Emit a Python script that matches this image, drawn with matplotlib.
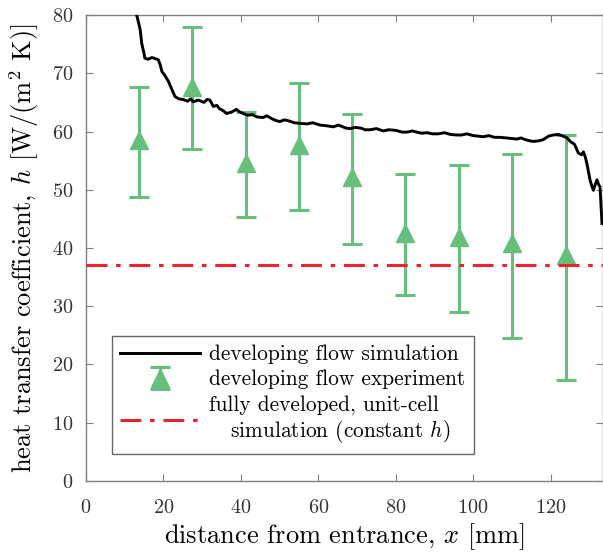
import numpy as np
import matplotlib.pyplot as plt

plt.rcParams['font.family'] = 'cmr10'
plt.rcParams['mathtext.fontset'] = 'cm'
plt.rcParams['axes.formatter.use_mathtext'] = True
plt.rcParams['axes.unicode_minus'] = False
plt.rcParams['lines.scale_dashes'] = False

# simulacion (flujo en desarrollo)
x_sim = [13.1, 14.0, 14.4, 15.0, 15.2, 16.0, 17.0, 18.0, 18.7, 19.2, 19.6, 20.4, 21.3, 22.2,
         23.0, 24.0, 25.1, 26.3, 27.0, 27.7, 29.0, 30.5, 31.3, 32.0, 32.9, 33.8, 34.5, 35.4,
         36.3, 37.5, 38.9, 39.6, 40.6, 41.8, 43.0, 44.2, 45.8, 46.7, 48.0, 49.0, 50.1, 51.2,
         52.5, 53.8, 55.3, 57.0, 58.6, 60.5, 62.0, 63.9, 65.2, 66.0, 67.1, 68.2, 69.5, 71.0,
         72.1, 73.4, 75.0, 76.8, 78.2, 80.0, 81.6, 83.0, 84.3, 85.4, 86.8, 88.0, 89.5, 91.0,
         92.6, 94.1, 95.7, 97.0, 98.4, 100.0, 101.3, 102.7, 104.0, 105.5, 107.0, 108.5,
         110.0, 111.3, 112.4, 113.5, 114.6, 115.6, 117.0, 118.1, 119.5, 120.7, 122.0, 123.3,
         124.3, 125.1, 126.2, 127.2, 128.0, 128.5, 129.0, 129.4, 130.2, 130.7, 131.1, 131.6,
         132.0, 132.5, 132.8, 133.3]
h_sim = [80.0, 77.5, 75.1, 73.4, 72.6, 72.4, 72.7, 72.5, 72.3, 71.4, 70.3, 69.6, 68.6, 67.2,
         66.0, 65.6, 65.5, 65.2, 65.6, 65.1, 65.4, 65.0, 65.5, 65.4, 64.3, 64.5, 63.9, 63.6,
         63.1, 63.3, 63.8, 63.4, 63.1, 62.8, 62.9, 62.5, 62.4, 62.7, 62.2, 61.9, 61.7, 62.0,
         61.8, 61.5, 61.4, 61.3, 61.5, 61.1, 61.0, 60.8, 61.1, 60.9, 60.6, 60.5, 60.7, 60.6,
         60.3, 60.3, 60.5, 60.1, 60.3, 60.2, 59.9, 59.9, 60.1, 59.9, 59.7, 59.8, 59.6, 59.6,
         59.8, 59.5, 59.4, 59.4, 59.6, 59.3, 59.2, 59.1, 59.3, 59.0, 59.0, 58.9,
         58.8, 58.7, 58.9, 58.6, 58.4, 58.3, 58.4, 58.6, 59.2, 59.4, 59.5, 59.2,
         58.9, 58.3, 57.8, 56.3, 56.0, 56.5, 55.6, 54.5, 51.7, 50.6, 49.9, 51.0,
         51.7, 50.8, 50.5, 44.2]

# experimento
x_exp = [13.7, 27.4, 41.3, 55.0, 68.8, 82.5, 96.3, 110.0, 124.0]
h_exp = [58.5, 67.6, 54.6, 57.7, 52.2, 42.6, 41.9, 40.8, 38.8]
h_sup = [67.6, 77.9, 63.3, 68.3, 63.0, 52.7, 54.2, 56.1, 59.4]
h_inf = [48.8, 57.0, 45.3, 46.6, 40.7, 31.9, 29.0, 24.5, 17.3]

# celda unitaria, flujo desarrollado
h_const = 37.0

h_exp = np.array(h_exp)
err = [h_exp - np.array(h_inf), np.array(h_sup) - h_exp]

fig = plt.figure(figsize=(6.03, 5.54), dpi=100)
ax = fig.add_axes([0.1426, 0.1318, 0.857, 0.8411])

l1, = ax.plot(x_sim, h_sim, color='black', lw=2.1, zorder=4)
l2 = ax.errorbar(x_exp, h_exp, yerr=err, fmt='^', color='#66BF7A', ms=13, elinewidth=2.2,
                 capsize=7.5, capthick=2.2, zorder=3)
l3 = ax.axhline(h_const, color='#EE222C', lw=2.2, dashes=(15, 6.3, 3.3, 6.3), zorder=5)

ax.set_xlim(0, 133.5)
ax.set_ylim(0, 80)
ax.set_xticks(np.arange(0, 121, 20))
ax.set_yticks(np.arange(0, 81, 10))
ax.tick_params(direction='in', top=True, right=True, length=5, color='#808080',
               labelcolor='#333333', labelsize=14.5)
ax.tick_params(axis='x', pad=13)
ax.tick_params(axis='y', pad=9)
for s in ax.spines.values():
    s.set_color('#808080')
    s.set_linewidth(1.0)

ax.set_xlabel('distance from entrance, $x$ [mm]', fontsize=19, labelpad=3)
ax.set_ylabel('heat transfer coefficient, $h$ [W/(m$^2$ K)]', fontsize=19, labelpad=8)

leg = ax.legend([l1, l2, l3],
                ['developing flow simulation', 'developing flow experiment',
                 'fully developed, unit-cell\n   simulation (constant $h$)'],
                loc='lower left', bbox_to_anchor=(0.050, 0.058), borderaxespad=0,
                fontsize=15.4, fancybox=False, edgecolor='#666666', framealpha=1,
                handlelength=3.7, borderpad=0.4, labelspacing=0.25, handletextpad=0.45)
leg.get_frame().set_linewidth(1.0)

fig.savefig('out.png', dpi=100)
